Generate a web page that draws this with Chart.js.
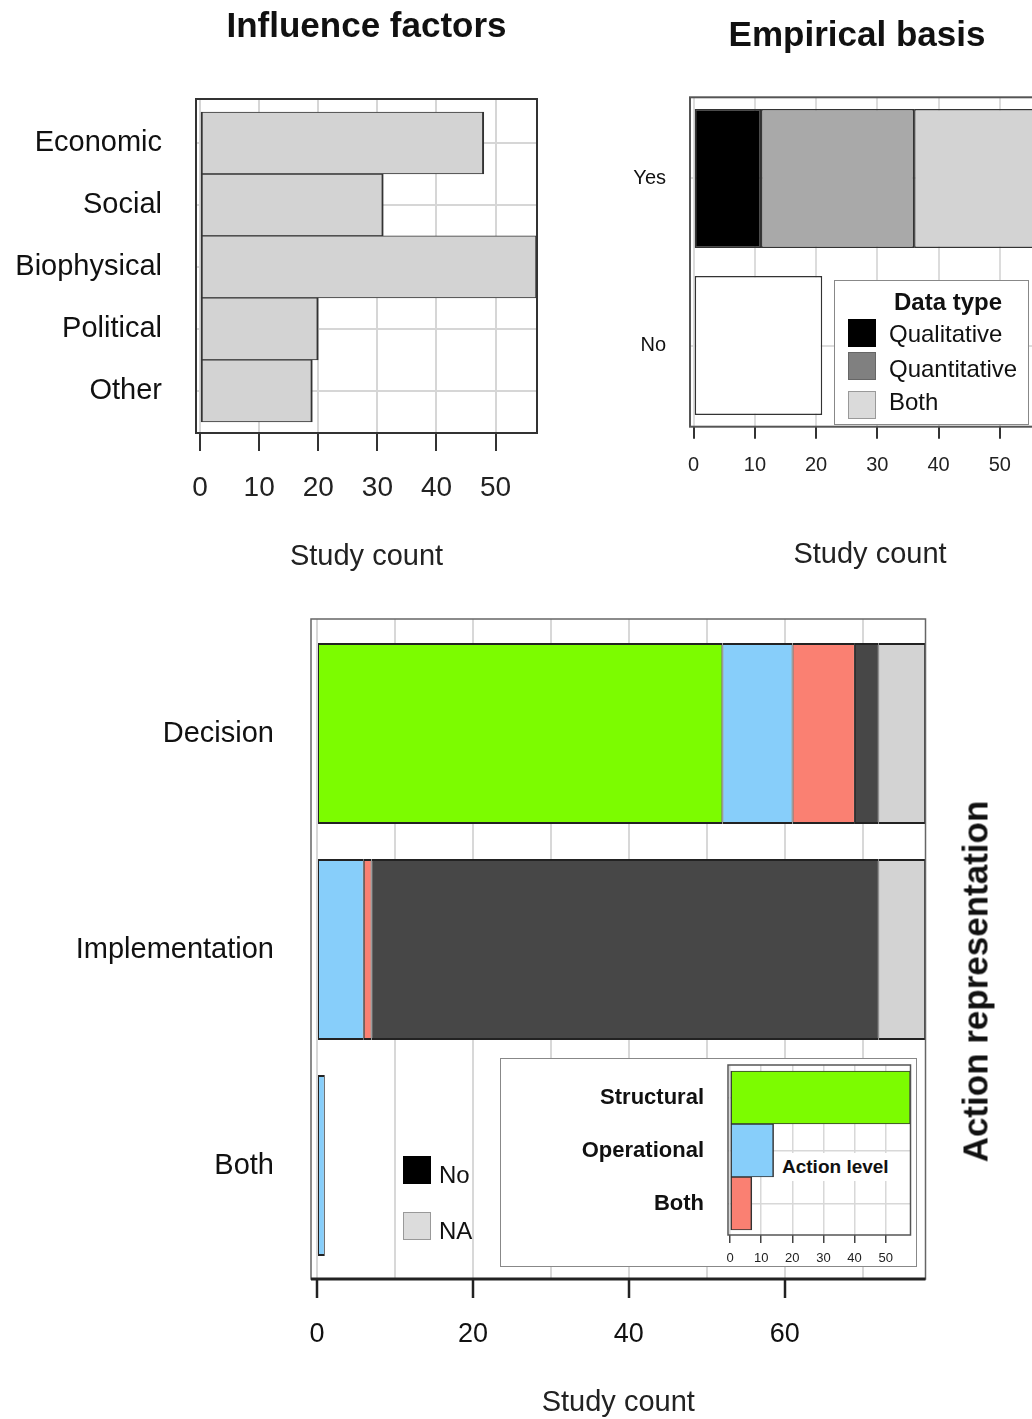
<!DOCTYPE html>
<html>
<head>
<meta charset="utf-8">
<script src="https://cdn.jsdelivr.net/npm/chart.js@4.4.1/dist/chart.umd.min.js"></script>
<style>
html, body { margin: 0; padding: 0; width: 1032px; height: 1419px; overflow: hidden; background: #fff; }
body { position: relative; font-family: "Liberation Sans", Arial, sans-serif; color: #111; }
canvas, .abs { position: absolute; }
.txt { line-height: 1; white-space: nowrap; }
.sw { box-sizing: border-box; }
</style>
</head>
<body>

<canvas id="influence" width="560" height="590" style="left:0;top:0"></canvas>
<canvas id="empirical" width="466" height="590" style="left:624px;top:0"></canvas>
<canvas id="action" width="1032" height="819" style="left:0;top:600px"></canvas>

<div class="abs txt" style="left:657px;top:15.5px;width:400px;text-align:center;font-size:35px;font-weight:bold">Empirical basis</div>

<!-- Data type legend -->
<div class="abs" style="left:834px;top:280px;width:195px;height:145px;box-sizing:border-box;border:1.5px solid #888;background:#fff"></div>
<div class="abs txt" style="left:848px;top:290px;width:200px;text-align:center;font-size:24px;font-weight:bold">Data type</div>
<div class="abs sw" style="left:848px;top:319px;width:28px;height:28px;background:#000;border:1px solid #000"></div>
<div class="abs sw" style="left:848px;top:352px;width:28px;height:28px;background:#808080;border:1px solid #666"></div>
<div class="abs sw" style="left:848px;top:391px;width:28px;height:28px;background:#dadada;border:1px solid #999"></div>
<div class="abs txt" style="left:889px;top:322px;font-size:24px">Qualitative</div>
<div class="abs txt" style="left:889px;top:357px;font-size:24px">Quantitative</div>
<div class="abs txt" style="left:889px;top:390px;font-size:24px">Both</div>

<!-- No / NA legend -->
<div class="abs sw" style="left:403px;top:1156px;width:28px;height:28px;background:#000;border:1px solid #000"></div>
<div class="abs sw" style="left:403px;top:1212px;width:28px;height:28px;background:#dcdcdc;border:1px solid #999"></div>
<div class="abs txt" style="left:439px;top:1163px;font-size:24px">No</div>
<div class="abs txt" style="left:439px;top:1219px;font-size:24px">NA</div>

<!-- inset -->
<div class="abs" style="left:500px;top:1058px;width:417px;height:209px;box-sizing:border-box;border:1px solid #888;background:#fff"></div>
<canvas id="level" width="415" height="207" style="left:501px;top:1059px"></canvas>
<div class="abs" style="left:778px;top:1153px;height:28px;line-height:28px;padding:0 4px;background:#fff;font-size:19px;font-weight:bold">Action level</div>

<div class="abs txt" style="left:775px;top:963.5px;width:400px;text-align:center;font-size:35px;font-weight:bold;transform:rotate(-90deg)">Action representation</div>

<script>
// influence factors
const influenceLabels = ['Economic', 'Social', 'Biophysical', 'Political', 'Other'];
const influenceCounts = [48, 31, 57, 20, 19];

// empirical basis
const empiricalLabels = ['Yes', 'No'];
const dataTypes = ['Qualitative', 'Quantitative', 'Both'];
const empiricalYes = [11, 25, 22];
const empiricalNo = 21;

// action representation (Decision, Implementation, Both)
const actionLabels = ['Decision', 'Implementation', 'Both'];
const actionSeries = ['Structural', 'Operational', 'Both', 'No', 'NA'];
const actionStructural = [52, 0, 0];
const actionOperational = [9, 6, 1];
const actionBothLevel = [8, 1, 0];
const actionNo = [3, 65, 0];
const actionNA = [6, 6, 0];

// action level inset
const levelLabels = ['Structural', 'Operational', 'Both'];
const levelCounts = [58, 14, 7];

Chart.defaults.font.family = '"Liberation Sans", Arial, sans-serif';
Chart.defaults.color = '#111';

// turn a value list into {x, y} points, dropping empty ones
function toPoints(values) {
    return values.map((v, i) => ({ x: v, y: i })).filter(p => p.x > 0);
}

// fixed axis sizes, and no extra room for the end labels
function fixWidth(w) {
    return s => { s.width = w; s.paddingTop = 0; s.paddingBottom = 0; };
}
function fixHeight(h) {
    return s => { s.height = h; s.paddingLeft = 0; s.paddingRight = 0; };
}

// box around the plot region, drawn on top of the bars
const framePlugin = {
    id: 'frame',
    afterDatasetsDraw(chart, args, opts) {
        const ctx = chart.ctx, a = chart.chartArea;
        ctx.save();
        ctx.strokeStyle = opts.color;
        ctx.lineWidth = opts.width;
        ctx.strokeRect(a.left, a.top, a.right - a.left, a.bottom - a.top);
        if (opts.bottomWidth) {
            ctx.lineWidth = opts.bottomWidth;
            ctx.strokeStyle = opts.bottomColor;
            ctx.beginPath();
            ctx.moveTo(a.left, a.bottom);
            ctx.lineTo(a.right, a.bottom);
            ctx.stroke();
        }
        ctx.restore();
    }
};

const baseOptions = {
    indexAxis: 'y',
    responsive: false,
    animation: false,
    devicePixelRatio: 1,
    events: []
};

// Influence factors
new Chart(document.getElementById('influence'), {
    type: 'bar',
    data: {
        datasets: [{
            data: toPoints(influenceCounts),
            backgroundColor: '#d3d3d3',
            borderColor: '#333',
            borderWidth: { top: 1, bottom: 1, left: 2, right: 2 },
            borderSkipped: false,
            barPercentage: 1,
            categoryPercentage: 1
        }]
    },
    plugins: [framePlugin],
    options: {
        ...baseOptions,
        layout: { padding: { right: 23 } },
        plugins: {
            legend: { display: false },
            tooltip: { enabled: false },
            title: {
                display: true, text: 'Influence factors', fullSize: false,
                font: { size: 35, weight: 'bold' }, color: '#111',
                padding: { top: 6, bottom: 51 }
            },
            frame: { color: '#333', width: 2 }
        },
        scales: {
            x: {
                type: 'linear', min: -0.68, max: 57,
                afterFit: fixHeight(157),
                ticks: { stepSize: 10, includeBounds: false, autoSkip: false, maxRotation: 0, font: { size: 28 }, color: '#222', padding: 20 },
                grid: { color: '#d6d6d6', lineWidth: 2, tickLength: 18, tickColor: '#333', tickWidth: 2 },
                border: { display: false },
                title: { display: true, text: 'Study count', font: { size: 29 }, color: '#222', padding: { top: 0, bottom: 15.6 } }
            },
            y: {
                type: 'linear', offset: false, reverse: true, min: -0.71, max: 4.68,
                afterFit: fixWidth(196),
                ticks: { stepSize: 1, includeBounds: false, autoSkip: false, callback: v => influenceLabels[v], font: { size: 29 }, color: '#111', padding: 34 },
                grid: { offset: false, color: '#d6d6d6', lineWidth: 2, drawTicks: false },
                border: { display: false }
            }
        }
    }
});

// Empirical basis
const empColors = ['#000000', '#a9a9a9', '#d3d3d3'];
const empDatasets = dataTypes.map((name, i) => ({
    label: name,
    data: [{ x: empiricalYes[i], y: 0 }],
    backgroundColor: empColors[i]
}));
empDatasets.push({ label: 'No', data: [{ x: empiricalNo, y: 1 }], backgroundColor: '#ffffff' });
empDatasets.forEach(d => Object.assign(d, {
    borderColor: '#333', borderWidth: 1.5, borderSkipped: false, barPercentage: 0.832, categoryPercentage: 1
}));

new Chart(document.getElementById('empirical'), {
    type: 'bar',
    data: { datasets: empDatasets },
    plugins: [framePlugin],
    options: {
        ...baseOptions,
        layout: { padding: { top: 97.3, right: 40 } },
        plugins: {
            legend: { display: false },
            tooltip: { enabled: false },
            frame: { color: '#555', width: 2 }
        },
        scales: {
            x: {
                type: 'linear', stacked: true, min: -0.6, max: 58.2,
                afterFit: fixHeight(163.3),
                ticks: { stepSize: 10, includeBounds: false, autoSkip: false, maxRotation: 0, font: { size: 20 }, color: '#222', padding: 14.3 },
                grid: { color: '#dcdcdc', lineWidth: 2, tickLength: 12, tickColor: '#333', tickWidth: 2 },
                border: { display: false },
                title: { display: true, text: 'Study count', font: { size: 29 }, color: '#222', padding: { top: 0, bottom: 17.6 } }
            },
            y: {
                type: 'linear', offset: false, stacked: true, reverse: true, min: -0.486, max: 1.486,
                afterFit: fixWidth(66),
                ticks: { stepSize: 1, includeBounds: false, autoSkip: false, callback: v => empiricalLabels[v], font: { size: 20 }, color: '#111', padding: 24 },
                grid: { offset: false, color: '#dcdcdc', lineWidth: 2, drawTicks: false },
                border: { display: false }
            }
        }
    }
});

// Action representation
const actionColors = ['#7cfc00', '#87cefa', '#fa8072', '#474747', '#d3d3d3'];
const actionValues = [actionStructural, actionOperational, actionBothLevel, actionNo, actionNA];

new Chart(document.getElementById('action'), {
    type: 'bar',
    data: {
        datasets: actionSeries.map((name, i) => ({
            label: name,
            data: toPoints(actionValues[i]),
            backgroundColor: actionColors[i],
            borderColor: '#222',
            borderWidth: { top: 2, bottom: 2, left: 1, right: 1 },
            borderSkipped: false,
            barPercentage: 0.838,
            categoryPercentage: 1
        }))
    },
    plugins: [framePlugin],
    options: {
        ...baseOptions,
        layout: { padding: { top: 19, right: 106.5 } },
        plugins: {
            legend: { display: false },
            tooltip: { enabled: false },
            frame: { color: '#666', width: 1.5, bottomWidth: 3, bottomColor: '#222' }
        },
        scales: {
            x: {
                type: 'linear', stacked: true, min: -0.77, max: 78.05,
                afterFit: fixHeight(140),
                ticks: {
                    stepSize: 10, includeBounds: false, autoSkip: false, maxRotation: 0,
                    callback: v => (v % 20 === 0 ? v : ''),
                    font: { size: 27 }, color: '#111', padding: 20.8
                },
                grid: {
                    color: '#d8d8d8', lineWidth: 2, tickLength: 19, tickWidth: 2.5,
                    tickColor: c => (c.tick && c.tick.value % 20 === 0 ? '#222' : 'rgba(0,0,0,0)')
                },
                border: { display: false },
                title: { display: true, text: 'Study count', font: { size: 29, lineHeight: 1 }, color: '#222', padding: { top: 0, bottom: 1.5 } }
            },
            y: {
                type: 'linear', offset: false, stacked: true, reverse: true, min: -0.53, max: 2.525,
                afterFit: fixWidth(311),
                ticks: { stepSize: 1, includeBounds: false, autoSkip: false, callback: v => actionLabels[v], font: { size: 29 }, color: '#111', padding: 37 },
                grid: { display: false, offset: false, drawTicks: false },
                border: { display: false }
            }
        }
    }
});

// Action level inset
new Chart(document.getElementById('level'), {
    type: 'bar',
    data: {
        datasets: [{
            data: toPoints(levelCounts),
            backgroundColor: ['#7cfc00', '#87cefa', '#fa8072'],
            borderColor: '#333',
            borderWidth: { top: 1, bottom: 1, left: 1.5, right: 1.5 },
            borderSkipped: false,
            barPercentage: 1,
            categoryPercentage: 1
        }]
    },
    plugins: [framePlugin],
    options: {
        ...baseOptions,
        layout: { padding: { top: 6, right: 5.5 } },
        plugins: {
            legend: { display: false },
            tooltip: { enabled: false },
            frame: { color: '#555', width: 1.5 }
        },
        scales: {
            x: {
                type: 'linear', min: -0.64, max: 57.96,
                afterFit: fixHeight(31),
                ticks: { stepSize: 10, includeBounds: false, autoSkip: false, maxRotation: 0, font: { size: 13 }, color: '#222', padding: 7.2 },
                grid: { color: '#d8d8d8', lineWidth: 1.5, tickLength: 8, tickColor: '#444', tickWidth: 1.5 },
                border: { display: false }
            },
            y: {
                type: 'linear', offset: false, reverse: true, min: -0.613, max: 2.594,
                afterFit: fixWidth(227),
                ticks: { stepSize: 1, includeBounds: false, autoSkip: false, callback: v => levelLabels[v], font: { size: 22, weight: 'bold' }, color: '#111', padding: 24 },
                grid: { offset: false, color: '#d8d8d8', lineWidth: 1.5, drawTicks: false },
                border: { display: false }
            }
        }
    }
});
</script>
</body>
</html>
